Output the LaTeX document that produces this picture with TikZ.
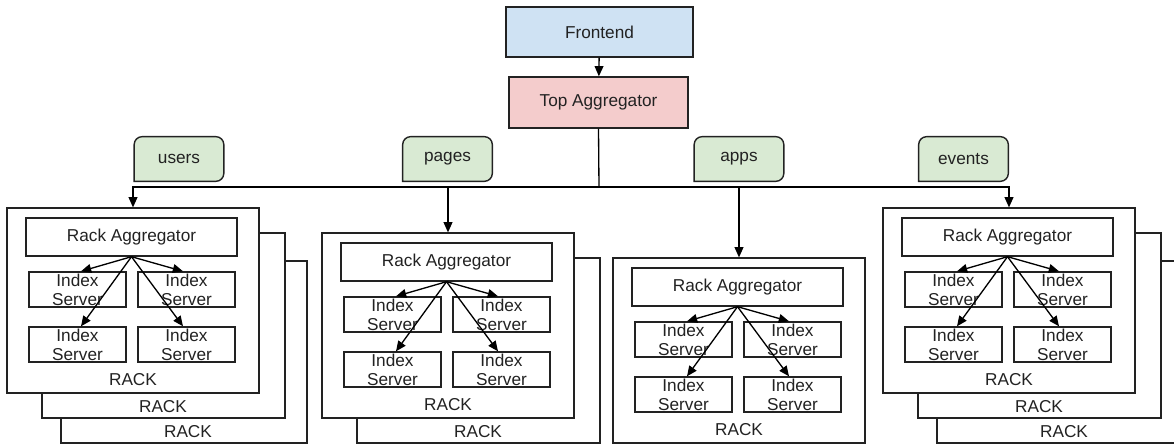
\documentclass[tikz,border=0pt]{standalone}
\usepackage{fontspec}
\setmainfont{Liberation Sans}
\usetikzlibrary{arrows.meta,backgrounds}

\definecolor{frontblue}{HTML}{CFE2F3}
\definecolor{aggpink}{HTML}{F4CCCC}
\definecolor{taggreen}{HTML}{D9EAD3}
\definecolor{inkgray}{HTML}{222222}

\tikzset{
  every node/.style={font=\fontsize{9.8}{10.8}\selectfont, text=inkgray},
  topbox/.style={draw=inkgray, line width=0.8pt, inner sep=0pt},
  tagtext/.style={inner sep=0pt, minimum width=1.78cm, minimum height=0.88cm},
  tagbox/.style={draw=inkgray, fill=taggreen, line width=0.8pt},
  rackline/.style={draw=inkgray, fill=white, line width=0.7pt},
  rackbox/.style={rackline, inner sep=0pt, minimum width=5.04cm, minimum height=3.7cm},
  aggbox/.style={draw=inkgray, line width=0.8pt, inner sep=0pt, minimum width=4.22cm, minimum height=0.76cm},
  srvbox/.style={draw=inkgray, line width=0.8pt, inner sep=0pt, minimum width=1.94cm, minimum height=0.7cm,
    label={[align=center, inner sep=0pt]center:Index\\Server}},
  conn/.style={draw=black, line width=0.75pt, -{Triangle[length=5.8pt,width=5pt]}}
}

\begin{document}
\begin{tikzpicture}[x=0.02cm, y=-0.02cm]
  \useasboundingbox (0,0) rectangle (1174,445);
  \clip (0,0) rectangle (1174,445);% third rack of events runs off the page

  \node[topbox, fill=frontblue, minimum width=3.74cm, minimum height=1cm] (front) at (599.5,32) {Frontend};
  \node[topbox, fill=aggpink, minimum width=3.58cm, minimum height=1.02cm] (top) at (598.5,102.5) {Top Aggregator};
  \draw[conn] (front) -- (top);

  % shard tags above the bus
  \foreach \x/\t in {179/users, 447.5/pages, 739/apps, 963.5/events}{
    \node[tagtext] (tag-\t) at (\x,159) {\t};
    \begin{scope}[on background layer]
      \filldraw[tagbox] (tag-\t.south west) [rounded corners=0.16cm] |- (tag-\t.north)
        -| (tag-\t.south east) [sharp corners] -- cycle;
    \end{scope}
  }

  % racks: left edge, top edge, number, how many deep
  \foreach \X/\Y/\n/\deep in {7/208/1/3, 322/233/2/2, 613/258/3/1, 883/208/4/3}{
    \ifnum\deep>2
      \filldraw[rackline] (\X+54,\Y+53) rectangle ++(246,182);
      \node (rk\n-3) at (\X+181,\Y+224) {RACK};
    \fi
    \ifnum\deep>1
      \filldraw[rackline] (\X+35,\Y+25) rectangle ++(243,185);
      \node (rk\n-2) at (\X+156,\Y+199) {RACK};
    \fi
    \node[rackbox] (rack\n) at (\X+126,\Y+92.5) {};
    \node (rk\n-1) at (\X+126,\Y+172) {RACK};
    \node[aggbox] (agg\n) at (\X+124.5,\Y+29) {Rack Aggregator};
    \node[srvbox] (srv\n-1) at (\X+70.5,\Y+81.5) {};
    \node[srvbox] (srv\n-2) at (\X+179.5,\Y+81.5) {};
    \node[srvbox] (srv\n-3) at (\X+70.5,\Y+136.5) {};
    \node[srvbox] (srv\n-4) at (\X+179.5,\Y+136.5) {};
    \draw[conn] (agg\n.south) -- ([xshift=0.07cm]srv\n-1.north);
    \draw[conn] (agg\n.south) -- ([xshift=-0.07cm]srv\n-2.north);
    \draw[conn] (agg\n.south) -- ([xshift=0.07cm]srv\n-3.north);
    \draw[conn] (agg\n.south) -- ([xshift=-0.07cm]srv\n-4.north);
  }

  % bus from the top aggregator to every rack
  \coordinate (bus) at (599,187);
  \draw[line width=0.75pt] (top.south) -- (bus);
  \foreach \n in {1,...,4}
    \draw[conn] (bus) -| (rack\n.north);
\end{tikzpicture}
\end{document}
